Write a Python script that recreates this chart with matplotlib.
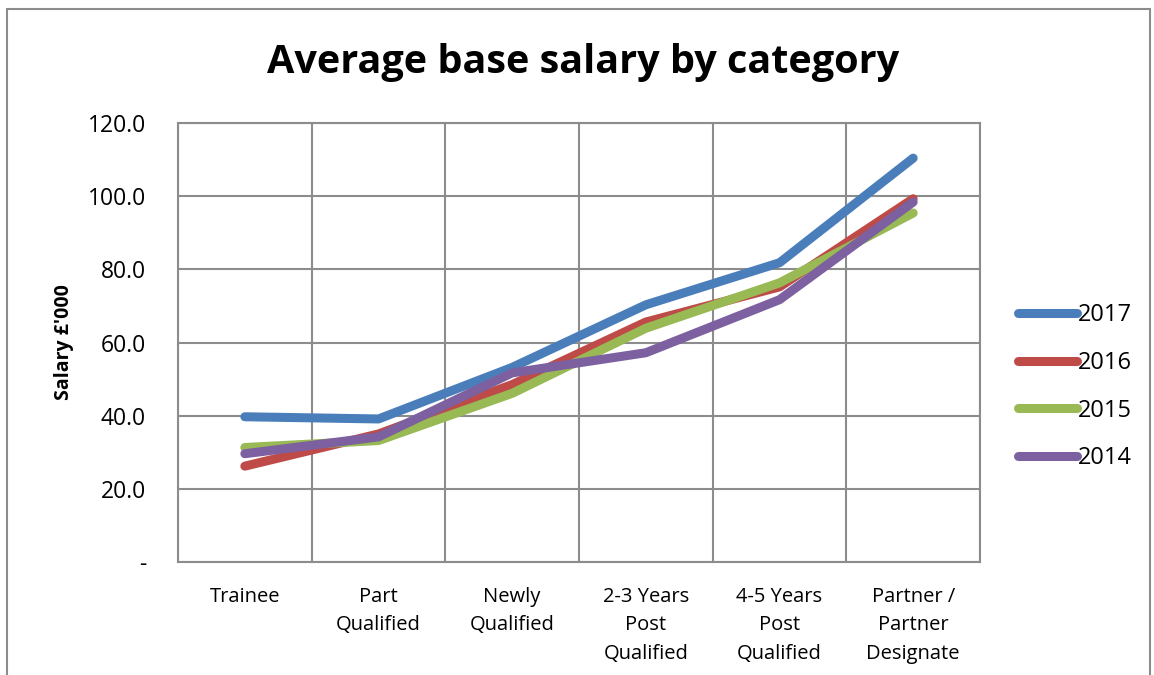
import matplotlib
matplotlib.use("Agg")
import matplotlib.pyplot as plt
from matplotlib.patches import Rectangle
from matplotlib.ticker import FixedLocator, FuncFormatter

categories = ["Trainee", "Part\nQualified", "Newly\nQualified",
              "2-3 Years\nPost\nQualified", "4-5 Years\nPost\nQualified",
              "Partner /\nPartner\nDesignate"]
series_names = ["2017", "2016", "2015", "2014"]
s2017 = [39.7, 39.1, 53.2, 70.3, 81.8, 110.4]
s2016 = [26.2, 35.0, 48.5, 65.6, 75.2, 99.3]
s2015 = [31.3, 33.2, 46.1, 63.9, 76.3, 95.4]
s2014 = [29.6, 34.2, 51.7, 57.2, 71.7, 98.4]
colors = ["#4a7ebb", "#be4b48", "#98b954", "#7d60a0"]
yticks = [0, 20, 40, 60, 80, 100, 120]

plt.rcParams['font.family'] = ['Open Sans', 'DejaVu Sans']

fig = plt.figure(figsize=(11.54, 6.75), dpi=100)
fig.patches.append(Rectangle((7/1154, -0.1), (1150-7)/1154, 1 - 9/675 + 0.1,
                             transform=fig.transFigure, fill=False,
                             edgecolor="#8c8c8c", linewidth=1.5))
ax = fig.add_axes([178/1154, 1 - 562/675, (980-178)/1154, (562-123)/675])

x = list(range(len(categories)))
for name, vals, c in zip(series_names, [s2017, s2016, s2015, s2014], colors):
    ax.plot(x, vals, color=c, linewidth=6.5, solid_capstyle="round",
            solid_joinstyle="round", label=name)

ax.set_xlim(-0.5, len(categories) - 0.5)
ax.set_ylim(0, 120)
ax.set_yticks(yticks)
ax.yaxis.set_major_formatter(FuncFormatter(lambda v, p: "-" if v == 0 else f"{v:.1f}"))
ax.set_xticks(x)
ax.set_xticklabels(categories, fontsize=14.5, linespacing=1.55, va="top")
ax.xaxis.set_minor_locator(FixedLocator([i - 0.5 for i in range(len(categories) + 1)]))
ax.tick_params(axis="both", which="both", length=0)
ax.tick_params(axis="x", pad=18)
ax.tick_params(axis="y", labelsize=16.5, pad=23)
ax.grid(True, axis="y", which="major", color="#8c8c8c", linewidth=1.5)
ax.grid(True, axis="x", which="minor", color="#8c8c8c", linewidth=1.5)
ax.grid(False, axis="x", which="major")
for s in ax.spines.values():
    s.set_color("#8c8c8c")
    s.set_linewidth(1.5)
ax.set_axisbelow(True)

ax.set_ylabel("Salary £'000", fontsize=14, fontweight="bold", labelpad=10)
fig.text(583/1154, 1 - 63/675, "Average base salary by category", ha="center",
         va="center", fontsize=28.5, fontweight="bold")

leg = ax.legend(loc="center left", bbox_to_anchor=(1.047, 0.399), frameon=False,
                fontsize=17, handlelength=2.5, handletextpad=0.05,
                labelspacing=1.0, borderaxespad=0, borderpad=0)

fig.savefig("out.png", dpi=100)
